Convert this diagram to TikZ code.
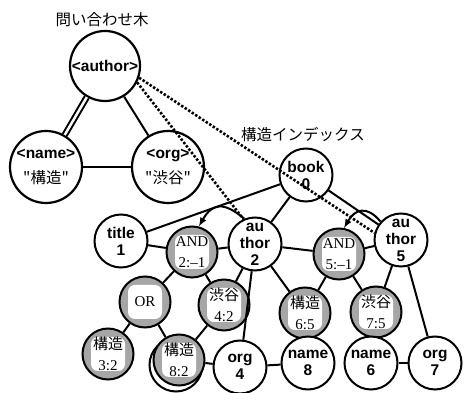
\documentclass[tikz,border=0pt]{standalone}
\usepackage{fontspec}
\setmainfont{Liberation Serif}
\setsansfont{Liberation Sans}
\newfontfamily\jfont{Noto Sans CJK JP}
\usetikzlibrary{arrows}

\begin{document}
\begin{tikzpicture}[x=1pt, y=1pt,
    query/.style={draw, circle, line width=2.2pt, fill=white, minimum size=72pt, inner sep=0pt, align=center, font=\fontsize{15.5}{25}\selectfont},
    idx/.style={draw, circle, line width=2pt, fill=white, minimum size=53pt, inner sep=0pt, align=center, font=\sffamily\bfseries\fontsize{15.5}{17}\selectfont},
    hit/.style={draw, circle, line width=2pt, fill=black!35, minimum size=51pt, inner sep=0pt, align=center, font=\fontsize{15}{21}\selectfont,
      path picture={\fill [white, rounded corners=7pt] ([shift={(-17pt,-17pt)}]path picture bounding box.center) rectangle ([shift={(17pt,17pt)}]path picture bounding box.center);}},
    heading/.style={font=\jfont\fontsize{15.5}{17}\selectfont},
    edge/.style={line width=2pt},
    dotline/.style={line width=2.6pt, dash pattern=on 2.4pt off 1.8pt},
    back/.style={-latex, line width=2pt, looseness=1.5}]
      %% \draw [help lines, opacity=0.5] (0,0) grid [step=20] (466,393);
      \useasboundingbox (0,0) rectangle (466,393);

      %% query tree
      \node [heading] (qtitle) at (102,373) {問い合わせ木};
      \node [query, minimum size=70pt] (author) at (105,327) {\sffamily\bfseries <author>};
      \node [query] (name) at (46,226) {{\sffamily\bfseries <name>}\\{\jfont "構造"}};
      \node [query] (org) at (168,226) {{\sffamily\bfseries <org>}\\{\jfont "渋谷"}};
      \draw [edge, double, double distance=2.5pt] (author) -- (name);
      \foreach \a/\b in {author/org, name/org} \draw [edge] (\a) -- (\b);

      %% structure index
      \node [heading] (ititle) at (303,258) {構造インデックス};
      \node [idx] (book) at (306,218) {book\\0};
      \node [idx] (title) at (121,152) {title\\1};
      \node [hit] (and2) at (192,141) {AND\\2:--1};
      \node [idx] (author2) at (255,149) {au\\thor\\2};
      \node [hit] (and5) at (339,139) {AND\\5:--1};
      \node [idx] (author5) at (401,153) {au\\thor\\5};
      \node [hit] (or) at (145,91) {OR};
      \node [hit] (sib4) at (224,88) {{\jfont 渋谷}\\4:2};
      \node [hit] (kz3) at (108,39) {{\jfont 構造}\\3:2};
      \node [draw, circle, line width=2pt, minimum size=53pt] (kz8b) at (176,28) {};
      \node [hit] (kz8) at (179,33) {{\jfont 構造}\\8:2};
      \node [idx] (org4) at (240,26) {org\\4};
      \node [hit] (kz6) at (305,80) {{\jfont 構造}\\6:5};
      \node [hit] (sib7) at (376,81) {{\jfont 渋谷}\\7:5};
      \node [idx] (name8) at (308,30) {name\\8};
      \node [idx] (name6) at (371,30) {name\\6};
      \node [idx] (org7) at (435,30) {org\\7};

      \foreach \a/\b in {book/title, book/author2, book/author5, title/and2, and2/author2,
        author2/and5, and5/author5, and2/or, and2/sib4, or/kz3, or/kz8, sib4/kz8,
        author2/sib4, author2/org4, author2/kz6, and5/kz6, and5/sib7, author5/sib7,
        author5/org7, kz8/org4, org4/name8, name6/org7}
        \draw [edge] (\a) -- (\b);

      \draw [back] (author2.113) to [out=140, in=60] (and2.75);
      \draw [back] (author5.138) to [out=130, in=60] (and5.79);

      \draw [dotline] (author.-19) -- (author5.165);
      \draw [dotline] (author.-27) -- (author2.115);

   \end{tikzpicture}
\end{document}
